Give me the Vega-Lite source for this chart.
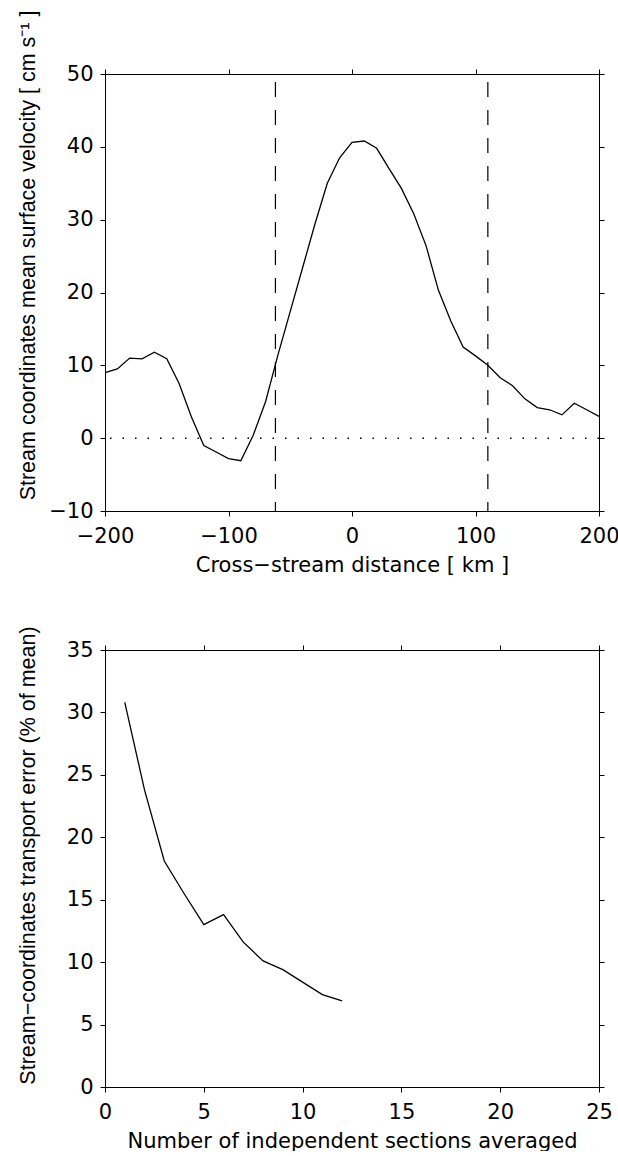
{
  "$schema": "https://vega.github.io/schema/vega-lite/v6.json",
  "background": "white",
  "padding": {"left": 16, "top": 10, "right": 0, "bottom": 0},
  "spacing": 50,
  "config": {
    "view": {"stroke": null},
    "axis": {
      "domainColor": "black", "domainWidth": 1, "tickColor": "black", "tickWidth": 1, "tickSize": 5,
      "grid": false, "labelFont": "DejaVu Sans", "labelFontSize": 21, "labelColor": "black",
      "titleFont": "DejaVu Sans", "titleFontSize": 21, "titleFontWeight": "normal", "titleColor": "black",
      "labelFlush": false, "labelOverlap": false
    },
    "axisBottom": {"labelPadding": 9, "titlePadding": 8},
    "axisLeft": {"labelPadding": 7, "titleFont": "Liberation Sans", "titleFontSize": 21.5}
  },
  "vconcat": [
    {
      "width": 494,
      "height": 437,
      "resolve": {"axis": {"x": "independent", "y": "independent"}},
      "layer": [
        {
          "data": {"values": [
            {"d": -200, "v": 9.0}, {"d": -190, "v": 9.5}, {"d": -180, "v": 11.0}, {"d": -170, "v": 10.9},
            {"d": -160, "v": 11.8}, {"d": -150, "v": 10.9}, {"d": -140, "v": 7.5}, {"d": -130, "v": 2.9},
            {"d": -120, "v": -1.0}, {"d": -110, "v": -1.9}, {"d": -100, "v": -2.8}, {"d": -90, "v": -3.1},
            {"d": -80, "v": 0.4}, {"d": -70, "v": 5.0}, {"d": -60, "v": 11.4}, {"d": -50, "v": 17.4},
            {"d": -40, "v": 23.4}, {"d": -30, "v": 29.4}, {"d": -20, "v": 35.0}, {"d": -10, "v": 38.5},
            {"d": 0, "v": 40.6}, {"d": 10, "v": 40.8}, {"d": 20, "v": 39.8}, {"d": 30, "v": 37.0},
            {"d": 40, "v": 34.3}, {"d": 50, "v": 30.8}, {"d": 60, "v": 26.4}, {"d": 70, "v": 20.3},
            {"d": 80, "v": 16.1}, {"d": 90, "v": 12.5}, {"d": 100, "v": 11.3}, {"d": 110, "v": 10.0},
            {"d": 120, "v": 8.3}, {"d": 130, "v": 7.2}, {"d": 140, "v": 5.4}, {"d": 150, "v": 4.2},
            {"d": 160, "v": 3.9}, {"d": 170, "v": 3.2}, {"d": 180, "v": 4.8}, {"d": 190, "v": 3.9},
            {"d": 200, "v": 3.0}
          ]},
          "mark": {"type": "line", "color": "black", "strokeWidth": 1.3},
          "encoding": {
            "x": {"field": "d", "type": "quantitative", "scale": {"domain": [-200, 200], "nice": false},
                  "axis": {"orient": "bottom", "values": [-200, -100, 0, 100, 200], "title": "Cross−stream distance [ km ]"}},
            "y": {"field": "v", "type": "quantitative", "scale": {"domain": [-10, 50], "nice": false, "zero": false},
                  "axis": {"orient": "left", "values": [-10, 0, 10, 20, 30, 40, 50],
                           "title": "Stream coordinates mean surface velocity [ cm s⁻¹ ]", "titleX": -66, "titleY": 181}}
          }
        },
        {
          "data": {"values": [{"b": -62}, {"b": 110}]},
          "mark": {"type": "rule", "color": "black", "strokeWidth": 1.2, "strokeDash": [15, 13], "strokeDashOffset": -8},
          "encoding": {
            "x": {"field": "b", "type": "quantitative", "scale": {"domain": [-200, 200], "nice": false},
                  "axis": {"orient": "top", "values": [-200, -100, 0, 100, 200], "labels": false, "title": null}}
          }
        },
        {
          "data": {"values": [{"z": 0}]},
          "mark": {"type": "rule", "color": "black", "strokeWidth": 1.5, "strokeDash": [1.5, 11]},
          "encoding": {
            "y": {"field": "z", "type": "quantitative", "scale": {"domain": [-10, 50], "nice": false, "zero": false},
                  "axis": {"orient": "right", "values": [-10, 0, 10, 20, 30, 40, 50], "labels": false, "title": null}}
          }
        }
      ]
    },
    {
      "width": 494,
      "height": 437,
      "resolve": {"axis": {"x": "independent", "y": "independent"}},
      "data": {"values": [
        {"n": 1, "e": 30.8}, {"n": 2, "e": 23.8}, {"n": 3, "e": 18.1}, {"n": 4, "e": 15.5},
        {"n": 5, "e": 13.0}, {"n": 6, "e": 13.8}, {"n": 7, "e": 11.6}, {"n": 8, "e": 10.1},
        {"n": 9, "e": 9.4}, {"n": 10, "e": 8.4}, {"n": 11, "e": 7.4}, {"n": 12, "e": 6.9}
      ]},
      "layer": [
        {
          "mark": {"type": "line", "color": "black", "strokeWidth": 1.3},
          "encoding": {
            "x": {"field": "n", "type": "quantitative", "scale": {"domain": [0, 25], "nice": false},
                  "axis": {"orient": "bottom", "values": [0, 5, 10, 15, 20, 25], "title": "Number of independent sections averaged"}},
            "y": {"field": "e", "type": "quantitative", "scale": {"domain": [0, 35], "nice": false},
                  "axis": {"orient": "left", "values": [0, 5, 10, 15, 20, 25, 30, 35],
                           "title": "Stream−coordinates transport error (% of mean)", "titleX": -66, "titleY": 205}}
          }
        },
        {
          "mark": {"type": "point", "opacity": 0},
          "encoding": {
            "x": {"field": "n", "type": "quantitative", "scale": {"domain": [0, 25], "nice": false},
                  "axis": {"orient": "top", "values": [0, 5, 10, 15, 20, 25], "labels": false, "title": null}},
            "y": {"field": "e", "type": "quantitative", "scale": {"domain": [0, 35], "nice": false},
                  "axis": {"orient": "right", "values": [0, 5, 10, 15, 20, 25, 30, 35], "labels": false, "title": null}}
          }
        }
      ]
    }
  ]
}
